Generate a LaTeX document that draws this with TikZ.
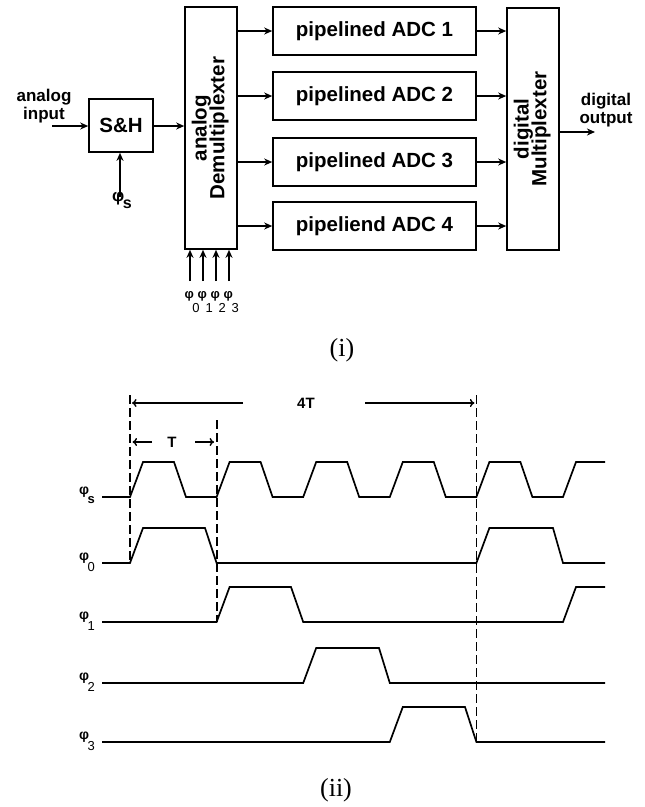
\documentclass[tikz,border=0pt]{standalone}
\usepackage{fontspec}
\setmainfont{Liberation Sans}
\newfontfamily\seriffont{Liberation Serif}
\usetikzlibrary{arrows.meta}
\newcommand\myphi[3]{{\bfseries\fontsize{#1}{#1}\selectfont φ}\kern-1.5pt\raisebox{#2}{\fontsize{13}{13}\selectfont #3}}
\begin{document}
\begin{tikzpicture}[x=1pt,y=-1pt,
  box/.style={draw, line width=1.6pt, inner sep=0pt, font=\bfseries\fontsize{20.5}{20}\selectfont},
  conn/.style={line width=1.5pt, -{Stealth[length=8pt,width=7pt,inset=2.5pt]}},
  wave/.style={line width=1.7pt, line join=miter},
  guide/.style={line width=1.8pt, dash pattern=on 9pt off 4pt},
  dimarrow/.style={line width=1.4pt, -{To[length=4.5pt,width=8pt]}},
  small/.style={font=\bfseries\fontsize{17}{18}\selectfont, align=center, inner sep=0pt},
  philbl/.style={anchor=base west, inner sep=0pt},
  caption/.style={font=\seriffont\fontsize{26}{26}\selectfont, inner sep=0pt}
]
\useasboundingbox[fill=white] (0,0) rectangle (645,807);

% ---------- block diagram ----------
\node[box, minimum width=64pt, minimum height=53pt] (sh) at (121,125.5) {S\&H};
\node[box, minimum width=52pt, minimum height=242pt] (demux) at (211,128)
  {\rotatebox{90}{\begin{tabular}{@{}c@{}}analog\\[-3pt]Demultiplexter\end{tabular}}};
\node[box, minimum width=203pt, minimum height=48pt] (adc1) at (374.5,31) {pipelined ADC 1};
\node[box, minimum width=203pt, minimum height=48pt] (adc2) at (374.5,96) {pipelined ADC 2};
\node[box, minimum width=203pt, minimum height=48pt] (adc3) at (374.5,162) {pipelined ADC 3};
\node[box, minimum width=203pt, minimum height=48pt] (adc4) at (374.5,226) {pipeliend ADC 4};
\node[box, minimum width=52pt, minimum height=242pt] (mux) at (533,129)
  {\rotatebox{90}{\begin{tabular}{@{}c@{}}digital\\[-3pt]Multiplexter\end{tabular}}};

\node[small] (ain) at (44,106) {analog\\input};
\node[small] (dout) at (606,110) {digital\\output};

\coordinate (inl) at (52,126);
\coordinate (outr) at (595,132);
\coordinate (phsT) at (120,197);

\draw[conn] (inl) -- (inl -| sh.west);
\draw[conn] (sh.east |- inl) -- (inl -| demux.west);
\draw[conn] (phsT) -- (phsT |- sh.south);
\foreach \i in {1,2,3,4}{
  \draw[conn] (demux.east |- adc\i.west) -- (adc\i.west);
  \draw[conn] (adc\i.east) -- (adc\i.east -| mux.west);
}
\draw[conn] (mux.east |- outr) -- (outr);

\node[philbl] (phs) at (112,201) {{\bfseries\fontsize{17}{17}\selectfont φ}\kern-1.5pt\raisebox{-7pt}{\bfseries\fontsize{16}{16}\selectfont s}};

\foreach \j/\x in {0/190,1/203,2/216,3/229}{
  \coordinate (pt\j) at (\x,281);
  \draw[conn] (pt\j) -- (pt\j |- demux.south);
  \node[philbl] (pl\j) at (\x-5.5,298) {\myphi{13}{-14pt}{\j}};
}

\node[caption] (capi) at (342,350) {(i)};

% ---------- timing diagram ----------
\coordinate (d1t) at (130,395);  \coordinate (d1b) at (130,563);
\coordinate (d2t) at (216.6,420);\coordinate (d2b) at (216.6,622);
\coordinate (d3t) at (476.4,395);\coordinate (d3b) at (476.4,742);
\draw[guide] (d1t) -- (d1b);
\draw[guide] (d2t) -- (d2b);
\draw[guide] (d3t) -- (d3b);

\node[font=\bfseries\fontsize{15}{15}\selectfont, inner sep=0pt] (fourT) at (306,403) {4T};
\coordinate (fa1) at (243,403); \coordinate (fa2) at (365,403);
\draw[dimarrow] (fa1) -- ([xshift=2pt]d1t |- fa1);
\draw[dimarrow] (fa2) -- ([xshift=-2pt]d3t |- fa2);
\node[font=\bfseries\fontsize{15}{15}\selectfont, inner sep=0pt] (oneT) at (172,442) {T};
\coordinate (ta1) at (152,442); \coordinate (ta2) at (195,442);
\draw[dimarrow] (ta1) -- ([xshift=2.5pt]d1t |- ta1);
\draw[dimarrow] (ta2) -- ([xshift=-2.5pt]d2t |- ta2);

% phi_s
\draw[wave] (102,497)
  -- (130,497) -- (143,462) -- (174,462) -- (186,497)
  -- (216.6,497) -- (229.6,462) -- (260.6,462) -- (272.6,497)
  -- (303.2,497) -- (316.2,462) -- (347.2,462) -- (359.2,497)
  -- (389.8,497) -- (402.8,462) -- (433.8,462) -- (445.8,497)
  -- (476.4,497) -- (489.4,462) -- (520.4,462) -- (532.4,497)
  -- (563,497) -- (576,462) -- (605,462);
% phi_0
\draw[wave] (102,563) -- (130,563) -- (143,528) -- (205,528) -- (216.6,563)
  -- (476.4,563) -- (489.4,528) -- (553,528) -- (563,563) -- (605,563);
% phi_1
\draw[wave] (102,622) -- (216.6,622) -- (229.6,587) -- (291,587) -- (303.2,622)
  -- (563,622) -- (576,587) -- (605,587);
% phi_2
\draw[wave] (102,683) -- (303.2,683) -- (316.2,648) -- (379,648) -- (389.8,683) -- (605,683);
% phi_3
\draw[wave] (102,742) -- (389.8,742) -- (402.8,707) -- (465,707) -- (476.4,742) -- (605,742);

\node[philbl] (ts) at (79,494) {{\bfseries\fontsize{14}{14}\selectfont φ}\kern-1.5pt\raisebox{-9pt}{\bfseries\fontsize{13}{13}\selectfont s}};
\node[philbl] (t0) at (79,560) {\myphi{14}{-11pt}{0}};
\node[philbl] (t1) at (79,619) {\myphi{14}{-11pt}{1}};
\node[philbl] (t2) at (79,680) {\myphi{14}{-11pt}{2}};
\node[philbl] (t3) at (79,739) {\myphi{14}{-11pt}{3}};

\node[caption] (capii) at (336,790) {(ii)};
\end{tikzpicture}
\end{document}
